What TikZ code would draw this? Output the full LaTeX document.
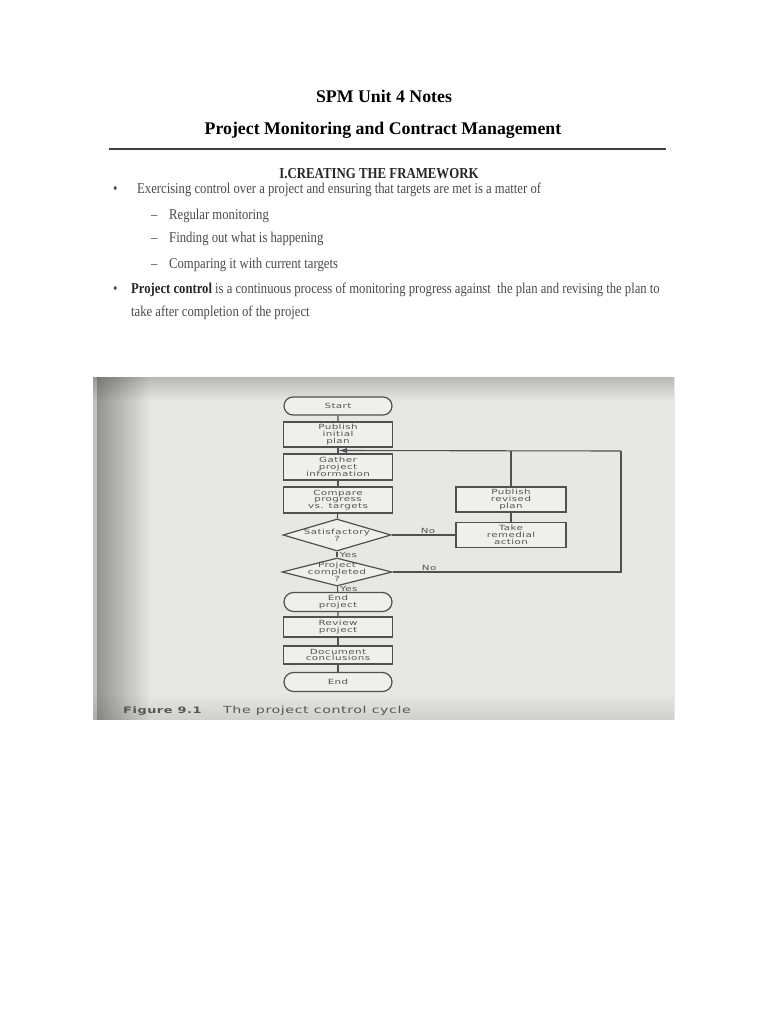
\documentclass[tikz,border=0pt]{standalone}
\usepackage{fontspec}
\setmainfont{Liberation Serif}
\newfontfamily\scanfont[FakeStretch=0.845]{Liberation Serif}
\newfontfamily\figfont[FakeStretch=1.45,LetterSpace=6]{DejaVu Sans}
\usetikzlibrary{positioning,arrows.meta,calc,shapes.geometric,shapes.misc,fadings}
\definecolor{bodytext}{HTML}{4A4A4A}
\definecolor{inkline}{HTML}{505050}
\definecolor{inktext}{HTML}{555555}
\definecolor{boxfill}{HTML}{EFEFEC}
\definecolor{scanbg}{HTML}{E7E7E3}
\tikzfading[name=fade right, left color=transparent!0, right color=transparent!100]
\tikzfading[name=fade down, top color=transparent!0, bottom color=transparent!100]
\tikzfading[name=fade up, top color=transparent!100, bottom color=transparent!0]
\tikzset{
  % --- page text -------------------------------------------------------
  ttl/.style    ={font=\fontsize{17.8}{20}\selectfont\bfseries, text=black,
                  inner sep=0, anchor=base},
  body/.style   ={font=\scanfont\fontsize{15}{17}\selectfont, text=bodytext,
                  inner sep=0, anchor=base west},
  head/.style   ={body, font=\scanfont\fontsize{15.2}{17}\selectfont\bfseries,
                  text=black!85, anchor=base},
  % --- flowchart nodes -------------------------------------------------
  base/.style   ={draw=inkline, line width=1.2pt, fill=boxfill, align=center,
                  inner sep=0, text=inktext,
                  font=\figfont\fontsize{7.1}{6.9}\selectfont},
  process/.style={base, minimum width=109pt},
  terminal/.style={base, rounded rectangle, minimum width=108pt,
                  minimum height=18pt},
  decision/.style={base, diamond, minimum width=108pt, minimum height=32pt},
  figlab/.style ={align=center, inner sep=0, text=inktext,
                  font=\figfont\fontsize{7.1}{6.9}\selectfont},
  lab/.style    ={figlab, inner sep=1pt},
  figcaption/.style={inner sep=0, anchor=base west, text=black!66,
                  font=\figfont\fontsize{8.9}{10}\selectfont},
  % --- connectors ------------------------------------------------------
  conn/.style   ={draw=inkline, line width=1.1pt},
  arrow/.style  ={conn, -{Latex[length=9pt,width=5pt]}},
  % --- scan shadows ----------------------------------------------------
  shadow/.style ={fill=black, draw=none},
}

\begin{document}
\begin{tikzpicture}[x=1pt,y=-1pt]
  \useasboundingbox (0,0) rectangle (768,1024);
  \fill[white] (0,0) rectangle (768,1024);

  % ============================= header =============================
  \node[ttl] (title)    at (384,103) {SPM Unit 4 Notes};
  \node[ttl] (subtitle) at (383,135) {Project Monitoring and Contract Management};
  \coordinate (ruleL) at (109,149);
  \coordinate (ruleR) at (666,149);
  \draw[line width=1.4pt, draw=black!75] (ruleL) -- (ruleR);

  % ============================= notes =============================
  \node[head] (sect) at (379,179) {I.CREATING THE FRAMEWORK};
  \node[body] (b1)  at (113,194) {\textbullet};
  \node[body] (t1)  at (137,194) {Exercising control over a project and ensuring that targets are met is a matter of};
  \node[body] (d1)  at (151,219) {\textendash};
  \node[body] (t1a) at (169,219) {Regular monitoring};
  \node[body] (d2)  at (151,243) {\textendash};
  \node[body] (t1b) at (169,243) {Finding out what is happening};
  \node[body] (d3)  at (151,268) {\textendash};
  \node[body] (t1c) at (169,268) {Comparing it with current targets};
  \node[body] (b2)  at (113,293) {\textbullet};
  \node[body] (t2)  at (131,293) {\textbf{\color{black!85}Project control} is a continuous process of monitoring progress against\ \ the plan and revising the plan to};
  \node[body] (t2b) at (131,316) {take after completion of the project};

  % ============================= scanned figure =============================
  \fill[scanbg] (93,377) rectangle (675,720);
  \fill[shadow, opacity=0.36, path fading=fade right] (97,377) rectangle (150,720);
  \fill[shadow, opacity=0.16] (93,377) rectangle (97,720);
  \fill[shadow, opacity=0.20, path fading=fade down] (93,377) rectangle (675,401);
  \fill[shadow, opacity=0.10, path fading=fade up] (93,694) rectangle (675,720);

  % main column
  \node[terminal] (start)    at (338,406) {Start};
  \node[process, minimum height=25pt] (pubplan) at (338,434.5) {Publish\\initial\\plan};
  \node[process, minimum height=26pt] (gather)  at (338,467)   {Gather\\project\\information};
  \node[process, minimum height=26pt] (compare) at (338,500)   {Compare\\progress\\vs. targets};
  \node[decision, label={[figlab]center:{Satisfactory\\?}}] (satisf) at (337,535) {};
  \node[decision, minimum width=110pt, minimum height=28pt,
        label={[figlab]center:{Project\\completed\\?}}] (completed) at (337,572) {};
  \node[terminal, minimum height=19pt] (endproj) at (338,602) {End\\project};
  \node[process, minimum height=20pt] (review)  at (338,627) {Review\\project};
  \node[process, minimum height=18pt] (docconc) at (338,655) {Document\\conclusions};
  \node[terminal, minimum height=19pt] (finish) at (338,682) {End};

  % side column
  \node[process, minimum width=110pt, minimum height=25pt] (revplan)  at (511,499.5) {Publish\\revised\\plan};
  \node[process, minimum width=110pt, minimum height=25pt] (remedial) at (511,535)   {Take\\remedial\\action};

  % loop points
  \coordinate (jn)     at ($(pubplan.south)!.5!(gather.north)$);
  \coordinate (loopne) at (621,451);
  \coordinate (loopse) at (loopne |- completed.east);

  % ============================= edges =============================
  \draw[conn] (start) -- (pubplan);
  \draw[conn] (pubplan) -- (gather);
  \draw[conn] (gather) -- (compare);
  \draw[conn] (compare) -- (satisf);
  \draw[conn] (satisf) -- node[lab, right=1pt]{Yes} (completed);
  \draw[conn] (completed) -- node[lab, right=1pt]{Yes} (endproj);
  \draw[conn] (endproj) -- (review);
  \draw[conn] (review) -- (docconc);
  \draw[conn] (docconc) -- (finish);
  % not satisfactory: remedial action, revised plan, back to gathering
  \draw[conn] (satisf.east) -- node[lab, above, pos=0.57]{No} (remedial.west);
  \draw[conn] (remedial) -- (revplan);
  \draw[conn] (revplan.north) -- (revplan.north |- jn);
  % not completed: back to gathering
  \draw[conn] (completed.east) -- node[lab, above, pos=0.16]{No} (loopse) -- (loopne);
  \draw[arrow] (loopne) -- (jn);

  % ============================= caption =============================
  \node[figcaption] (figno)  at (123,713) {\bfseries Figure 9.1};
  \node[figcaption, font=\figfont\fontsize{9.8}{10}\selectfont] (figcap) at (223,713) {The project control cycle};

\end{tikzpicture}
\end{document}
